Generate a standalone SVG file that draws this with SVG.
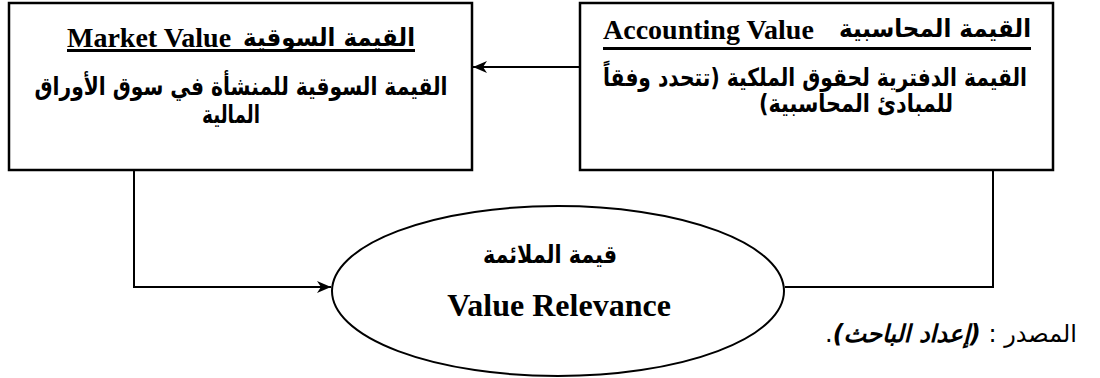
<svg xmlns="http://www.w3.org/2000/svg" width="1100" height="378" viewBox="0 0 1100 378">
  <style>
    .box { fill: #ffffff; stroke: #000000; stroke-width: 2.5; }
    .ell { fill: #ffffff; stroke: #000000; stroke-width: 2; }
    .conn { fill: none; stroke: #000000; stroke-width: 2; }
    .ul { stroke: #000000; stroke-width: 3; }
    .en { font-family: "Liberation Serif", "Times New Roman", serif; font-weight: bold; fill: #000; }
    .ar { font-family: "DejaVu Sans", "Liberation Sans", sans-serif; font-weight: bold; font-size: 25px; fill: #000; }
    .arr { font-family: "DejaVu Sans", "Liberation Sans", sans-serif; font-weight: normal; fill: #000; }
    .bi { font-weight: bold; font-style: italic; }
  </style>
  <defs>
    <marker id="arrow" viewBox="0 0 14 12" refX="14" refY="6" markerWidth="14" markerHeight="12" markerUnits="userSpaceOnUse" orient="auto">
      <path d="M0,0 L14,6 L0,12 L4,6 z" fill="#000"/>
    </marker>
  </defs>

  <g id="connectors">
    <line class="conn" x1="580" y1="67" x2="473" y2="67" marker-end="url(#arrow)"/>
    <polyline class="conn" points="134,170 134,287 331,287" marker-end="url(#arrow)"/>
    <polyline class="conn" points="993,170 993,287 785,287"/>
  </g>

  <g id="market-value">
    <rect class="box" x="9" y="3" width="463" height="167"/>
    <text class="en" x="67" y="47" font-size="28">Market Value</text>
    <text class="ar" x="415" y="46" text-anchor="end" textLength="172" lengthAdjust="spacingAndGlyphs">القيمة السوقية</text>
    <line class="ul" x1="67" y1="50.5" x2="415" y2="50.5"/>
    <text class="ar" x="241" y="95" text-anchor="middle" direction="rtl" textLength="413" lengthAdjust="spacingAndGlyphs">القيمة السوقية للمنشأة في سوق الأوراق</text>
    <text class="ar" x="231" y="123" text-anchor="middle" direction="rtl" textLength="58" lengthAdjust="spacingAndGlyphs">المالية</text>
  </g>

  <g id="accounting-value">
    <rect class="box" x="580" y="3" width="473" height="167"/>
    <text class="en" x="603" y="39" font-size="28">Accounting Value</text>
    <text class="ar" x="1031" y="37" text-anchor="end" textLength="192" lengthAdjust="spacingAndGlyphs">القيمة المحاسبية</text>
    <line class="ul" x1="603" y1="48.5" x2="1031" y2="48.5"/>
    <text class="ar" x="815" y="86" text-anchor="middle" direction="rtl" textLength="424" lengthAdjust="spacingAndGlyphs">القيمة الدفترية لحقوق الملكية (تتحدد وفقاً</text>
    <text class="ar" x="856" y="112" text-anchor="middle" direction="rtl" textLength="194" lengthAdjust="spacingAndGlyphs">للمبادئ المحاسبية)</text>
  </g>

  <g id="value-relevance">
    <ellipse class="ell" cx="558" cy="291" rx="226" ry="85"/>
    <text class="ar" x="550" y="263" text-anchor="middle" direction="rtl" textLength="134" lengthAdjust="spacingAndGlyphs">قيمة الملائمة</text>
    <text class="en" x="559" y="316" font-size="32" text-anchor="middle">Value Relevance</text>
  </g>

  <g id="source">
    <text class="arr" x="1077" y="342" font-size="24" direction="rtl" text-anchor="start">المصدر : <tspan class="bi">(إعداد الباحث)</tspan>.</text>
  </g>
</svg>
